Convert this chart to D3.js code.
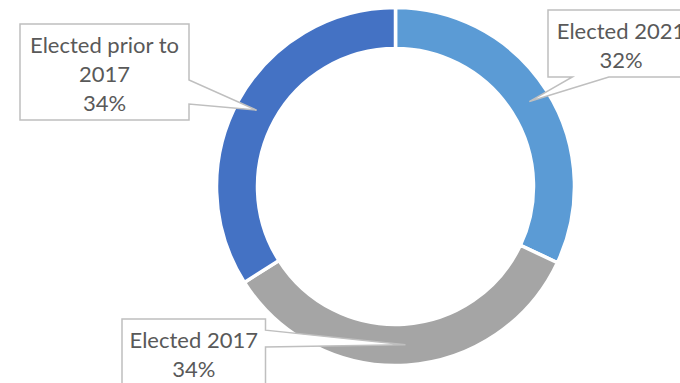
<!DOCTYPE html>
<html>
<head>
<meta charset="utf-8">
<script src="https://cdn.jsdelivr.net/npm/d3@7"></script>
<style>
  html, body { margin: 0; padding: 0; background: #fff; }
  svg { display: block; }
</style>
</head>
<body>
<svg id="chart" width="680" height="383"></svg>
<script>
// Share of members by when they were first elected
const categories = ["Elected 2021", "Elected 2017", "Elected prior to 2017"];
const shares = [32, 34, 34];
const colors = ["#5B9BD5", "#A5A5A5", "#4472C4"];

// Layout
const W = 680, H = 383;
const cx = 395.5, cy = 186.5;
const outerR = 179, innerR = 138;
const fontSize = 22, lineGap = 29.3, firstBaseline = 28.5;

// Callout boxes, one per slice in the same order
const boxes = [
  { x: 548, y: 10, w: 146, h: 67 },
  { x: 122, y: 319, w: 143.5, h: 67 },
  { x: 20, y: 24, w: 169, h: 96 }
];

const svg = d3.select("#chart");
const total = d3.sum(shares);
const pct = d3.format(".0%");

const data = categories.map((c, i) => ({ name: c, value: shares[i], color: colors[i] }));
const pie = d3.pie().sort(null).value(d => d.value);
const arc = d3.arc().innerRadius(innerR).outerRadius(outerR);
const arcs = pie(data);

const g = svg.append("g").attr("transform", `translate(${cx},${cy})`);
g.selectAll("path.slice")
  .data(arcs)
  .join("path")
  .attr("class", "slice")
  .attr("d", arc)
  .attr("fill", d => d.data.color)
  .attr("stroke", "#fff")
  .attr("stroke-width", 3.5)
  .attr("stroke-linejoin", "miter");

// Rectangular callout with a wedge pointing at the slice
function calloutPath(b, tip) {
  const hc = b.x + b.w / 2, vc = b.y + b.h / 2;
  const dx = tip[0] - hc, dy = tip[1] - vc;
  const dq = dx * b.h / b.w;
  const L = b.x, R = b.x + b.w, T = b.y, B = b.y + b.h;
  const x1 = L + b.w * (dx > 0 ? 7 : 2) / 12, x2 = L + b.w * (dx > 0 ? 10 : 5) / 12;
  const y1 = T + b.h * (dy > 0 ? 7 : 2) / 12, y2 = T + b.h * (dy > 0 ? 10 : 5) / 12;
  const p = d3.path();
  const [tx, ty] = tip;
  if (Math.abs(dy) > Math.abs(dq)) {
    if (dy < 0) {
      p.moveTo(L, T); p.lineTo(x1, T); p.lineTo(tx, ty); p.lineTo(x2, T);
      p.lineTo(R, T); p.lineTo(R, B); p.lineTo(L, B);
    } else {
      p.moveTo(L, T); p.lineTo(R, T); p.lineTo(R, B); p.lineTo(x2, B);
      p.lineTo(tx, ty); p.lineTo(x1, B); p.lineTo(L, B);
    }
  } else {
    if (dx < 0) {
      p.moveTo(L, T); p.lineTo(R, T); p.lineTo(R, B); p.lineTo(L, B);
      p.lineTo(L, y2); p.lineTo(tx, ty); p.lineTo(L, y1);
    } else {
      p.moveTo(L, T); p.lineTo(R, T); p.lineTo(R, y1); p.lineTo(tx, ty);
      p.lineTo(R, y2); p.lineTo(R, B); p.lineTo(L, B);
    }
  }
  p.closePath();
  return p.toString();
}

// Measure text for word wrapping inside the boxes
const measurer = svg.append("text")
  .attr("font-family", "Lato, 'Open Sans', sans-serif")
  .attr("font-size", fontSize)
  .attr("visibility", "hidden");
function textWidth(s) {
  measurer.text(s);
  return measurer.node().getComputedTextLength();
}
function wrap(s, maxW) {
  const words = s.split(" ");
  const lines = [];
  let line = "";
  words.forEach(w => {
    const test = line ? line + " " + w : w;
    if (line && textWidth(test) > maxW) { lines.push(line); line = w; }
    else line = test;
  });
  if (line) lines.push(line);
  return lines;
}

const labels = svg.append("g");
arcs.forEach((d, i) => {
  const b = boxes[i];
  const c = arc.centroid(d);
  const tip = [c[0] + cx, c[1] + cy];
  labels.append("path")
    .attr("d", calloutPath(b, tip))
    .attr("fill", "#fff")
    .attr("stroke", "#BFBFBF")
    .attr("stroke-width", 1.5)
    .attr("stroke-linejoin", "miter");
  const lines = wrap(d.data.name, b.w - 4).concat([pct(d.data.value / total)]);
  const t = labels.append("text")
    .attr("font-family", "Lato, 'Open Sans', sans-serif")
    .attr("font-size", fontSize)
    .attr("fill", "#595959")
    .attr("text-anchor", "middle");
  lines.forEach((ln, j) => {
    t.append("tspan")
      .attr("x", b.x + b.w / 2)
      .attr("y", b.y + firstBaseline + j * lineGap)
      .text(ln);
  });
});
measurer.remove();
</script>
</body>
</html>
